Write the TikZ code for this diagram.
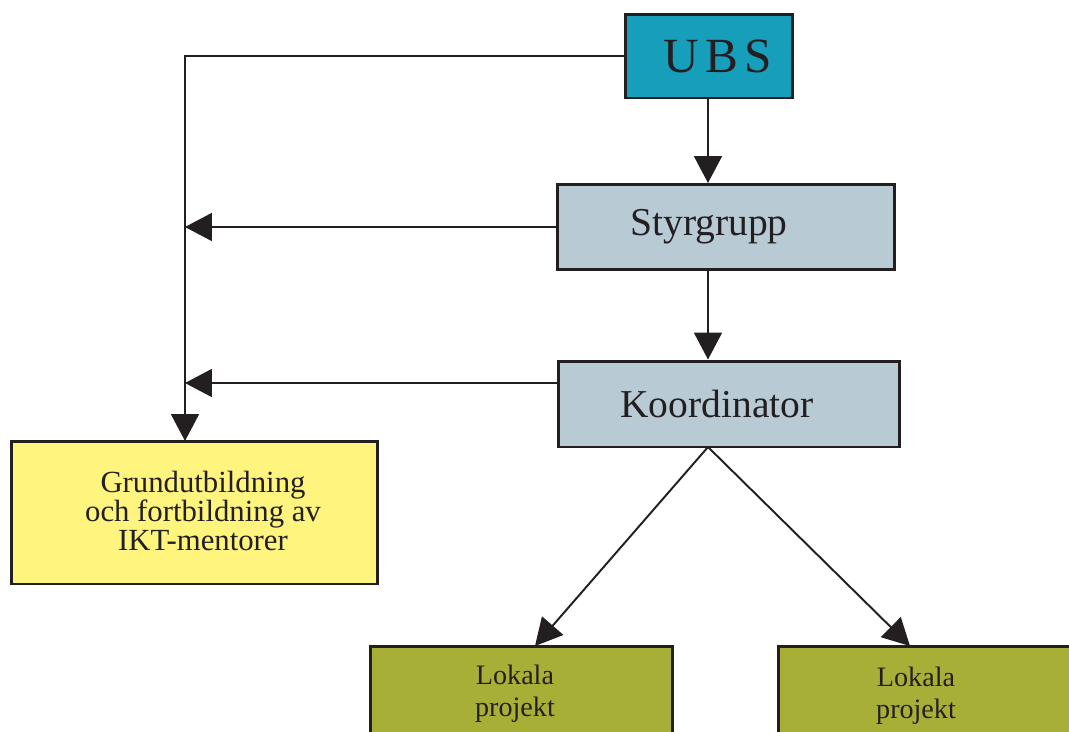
\documentclass[tikz,border=0pt]{standalone}
\usepackage{fontspec}
\setmainfont{Liberation Serif}
\usetikzlibrary{arrows.meta,calc}
\definecolor{ubsc}{HTML}{179EBB}
\definecolor{grayb}{HTML}{B8CBD5}
\definecolor{yell}{HTML}{FFF47E}
\definecolor{oliv}{HTML}{A8AF37}
\definecolor{ink}{HTML}{231F20}
\tikzset{
  box/.style={draw=ink, line width=1.7pt, rectangle, inner sep=0pt, align=center, text=ink},
  conn/.style={draw=ink, line width=1.1pt},
  arr/.style={conn, -{Triangle[length=0.54cm, width=0.56cm]}},
  lbl/.style={align=center, text=ink, inner sep=0pt},
  bigf/.style={font=\fontsize{22.5}{26}\selectfont},
  lokf/.style={font=\fontsize{16}{18}\selectfont}
}
\begin{document}
\begin{tikzpicture}[x=0.02cm, y=-0.02cm]
\useasboundingbox (0,0) rectangle (1069,731);
\clip (0,0) rectangle (1069,731);
\node[box, fill=ubsc, minimum width=3.36cm, minimum height=1.68cm, font=\fontsize{28}{30}\selectfont] (u) at (709,56)
  {\hspace{0.36cm}U\hspace{0.13em}B\hspace{0.13em}S};
\node[box, bigf, fill=grayb, minimum width=6.76cm, minimum height=1.70cm] (s) at (726,227)
  {Styrgrupp\hspace{0.68cm}};
\node[box, bigf, fill=grayb, minimum width=6.82cm, minimum height=1.72cm] (k) at (729,404)
  {Koordinator\hspace{0.48cm}};
\node[box, fill=yell, minimum width=7.34cm, minimum height=2.86cm] (g) at (194.5,512.5) {};
\node[lbl, font=\fontsize{17.5}{16.5}\selectfont] (gtx) at (203,511)
  {Grundutbildning\\och fortbildning av\\IKT-mentorer};
\node[box, fill=oliv, minimum width=6.06cm, minimum height=2.28cm] (l1) at (521.5,703) {};
\node[lbl, lokf] (l1t) at (515,694) {Lokala\\projekt};
\node[box, fill=oliv, minimum width=6.2cm, minimum height=2.28cm] (l2) at (933,703) {};
\node[lbl, lokf] (l2t) at (916,696) {Lokala\\projekt};
\coordinate (gt) at (185,441);
\coordinate (kb) at (708,447);
\coordinate (l1top) at (535,646);
\coordinate (l2top) at (910,646);
\draw[arr] (u.west) -| (gt);
\draw[arr] (u.south -| 708,0) -- (s.north -| 708,0);
\draw[arr] (s.south -| 708,0) -- (k.north -| 708,0);
\draw[arr] (s.west) -- (s.west -| gt);
\draw[arr] ([yshift=0.42cm]k.west) -- ([yshift=0.42cm]k.west -| gt);
\draw[arr] (kb) -- (l1top);
\draw[arr] (kb) -- (l2top);
\end{tikzpicture}
\end{document}
